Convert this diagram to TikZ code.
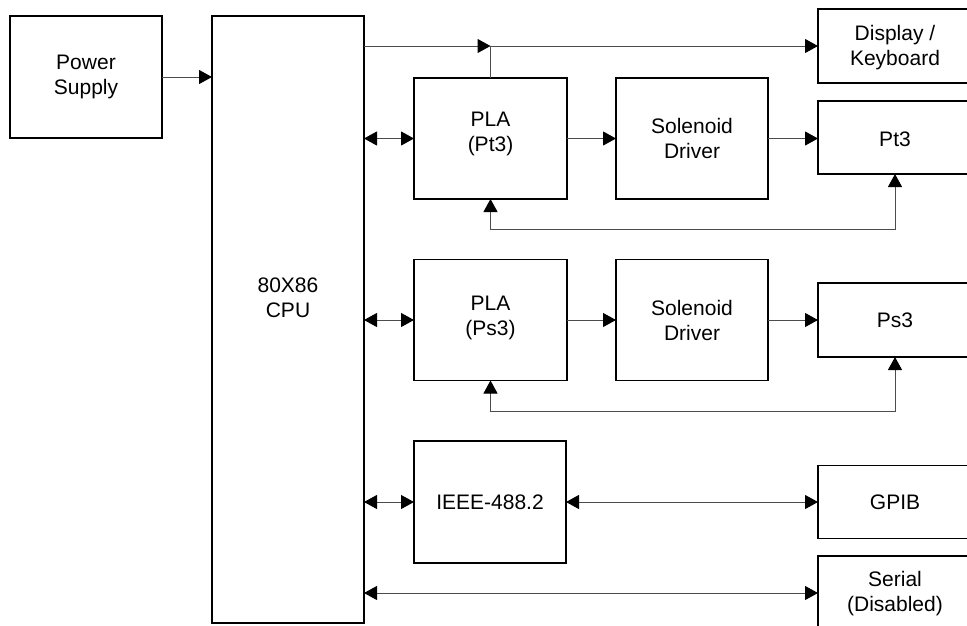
\documentclass[tikz,border=0pt]{standalone}
\usepackage{fontspec}
\setmainfont{Liberation Sans}
\usetikzlibrary{arrows.meta}
\begin{document}
\begin{tikzpicture}[x=1pt,y=-1pt,
  blk/.style={draw=black, line width=1.8pt, rectangle, inner sep=0pt, outer sep=0pt,
    align=center, font=\fontsize{21}{25}\selectfont},
  lbl/.style={align=center, font=\fontsize{21}{25}\selectfont, inner sep=0pt},
  conn/.style={draw=black!70, line width=1pt},
  arr/.style={conn, -{Triangle[length=13pt,width=14pt,color=black]}},
  biarr/.style={conn, {Triangle[length=13pt,width=14pt,color=black]}-{Triangle[length=13pt,width=14pt,color=black]}}
]
\clip (0,0) rectangle (967,625);
\fill[white] (0,0) rectangle (967,625);
% blocks
\node[blk, minimum width=152pt, minimum height=122pt] (ps) at (86,77) {Power\\Supply};
\node[blk, minimum width=152pt, minimum height=607pt,
  label={[lbl, yshift=22pt]center:80X86\\CPU}] (cpu) at (288,319.5) {};
\node[blk, minimum width=154pt, minimum height=74pt,
  label={[lbl, yshift=-2pt]center:Display /\\Keyboard}] (disp) at (895,46) {};
\node[blk, minimum width=154pt, minimum height=73pt,
  label={[lbl, yshift=-2pt]center:Pt3}] (pt3) at (895,137.5) {};
\node[blk, minimum width=153pt, minimum height=121pt,
  label={[lbl, yshift=5pt]center:PLA\\(Pt3)}] (pla1) at (490.5,138.5) {};
\node[blk, minimum width=152pt, minimum height=121pt] (sol1) at (692,138.5) {Solenoid\\Driver};
\node[blk, minimum width=153pt, minimum height=121pt,
  label={[lbl, yshift=2pt]center:PLA\\(Ps3)}] (pla2) at (490.5,320) {};
\node[blk, minimum width=152pt, minimum height=121pt] (sol2) at (692,320) {Solenoid\\Driver};
\node[blk, minimum width=154pt, minimum height=74pt] (ps3) at (895,320) {Ps3};
\node[blk, minimum width=152pt, minimum height=122pt] (ieee) at (490,502) {IEEE-488.2};
\node[blk, minimum width=154pt, minimum height=73pt] (gpib) at (895,502) {GPIB};
\node[blk, minimum width=154pt, minimum height=74pt,
  label={[lbl, yshift=-1pt]center:Serial\\(Disabled)}] (serial) at (895,593) {};
% helper coordinates
\coordinate (j) at (pla1.north |- disp.west);
\coordinate (fb1) at (490.5,229);
\coordinate (fb2) at (490.5,411);
% connectors
\draw[arr] (ps.east) -- (ps.east -| cpu.west);
\draw[arr] (j -| cpu.east) -- (j);
\draw[arr] (j) -- (disp.west);
\draw[conn] (pla1.north) -- (j);
\draw[biarr] (cpu.east |- pla1.west) -- (pla1.west);
\draw[arr] (pla1.east) -- (sol1.west);
\draw[arr] (sol1.east) -- (sol1.east -| pt3.west);
\draw[biarr] (pla1.south) -- (fb1) -| (pt3.south);
\draw[biarr] (cpu.east |- pla2.west) -- (pla2.west);
\draw[arr] (pla2.east) -- (sol2.west);
\draw[arr] (sol2.east) -- (ps3.west);
\draw[biarr] (pla2.south) -- (fb2) -| (ps3.south);
\draw[biarr] (cpu.east |- ieee.west) -- (ieee.west);
\draw[biarr] (ieee.east) -- (ieee.east -| gpib.west);
\draw[biarr] (cpu.east |- serial.west) -- (serial.west);
\end{tikzpicture}
\end{document}
